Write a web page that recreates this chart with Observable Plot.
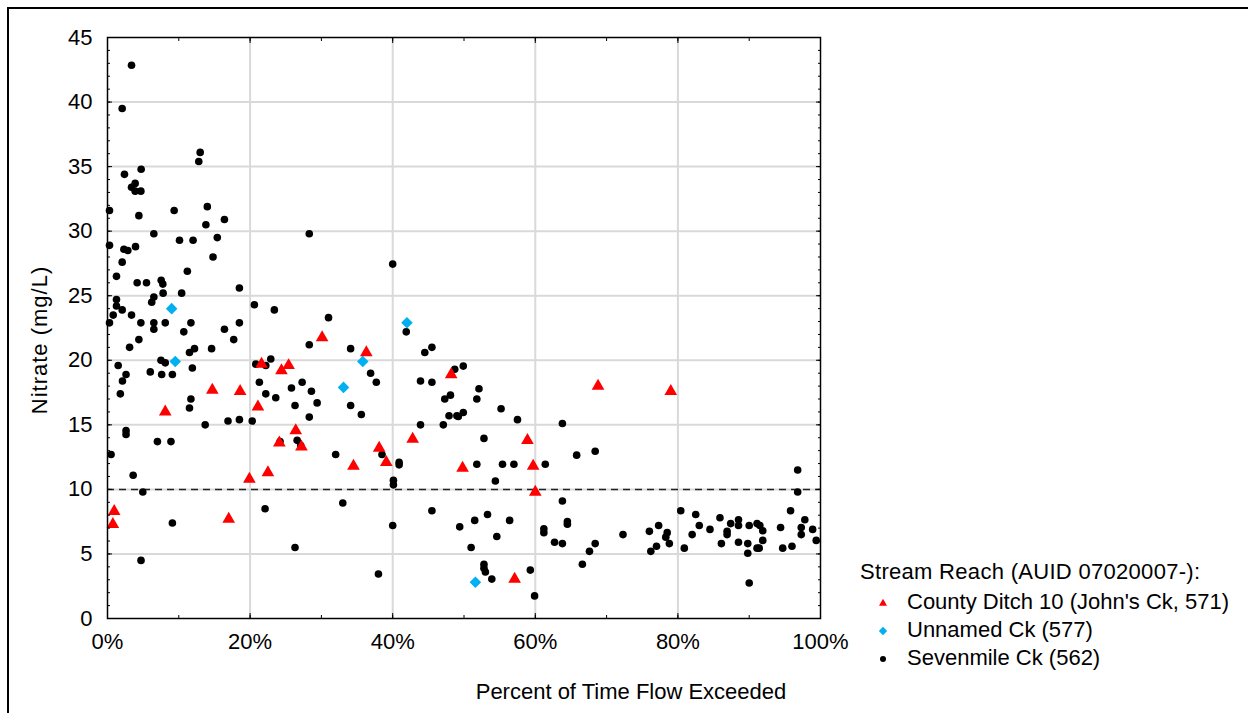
<!DOCTYPE html>
<html>
<head>
<meta charset="utf-8">
<script src="https://cdn.jsdelivr.net/npm/d3@7"></script>
<script src="https://cdn.jsdelivr.net/npm/@observablehq/plot@0.6"></script>
<style>
  html, body { margin: 0; padding: 0; background: #fff; }
  body { font-family: "Liberation Sans", Arial, sans-serif; color: #000; }
  #wrap { position: relative; width: 1248px; height: 713px; overflow: hidden; }
  #edge { position: absolute; left: 7px; top: 7px; width: 1260px; height: 720px;
          border-left: 2px solid #000; border-top: 2px solid #000; }
  #chart { position: absolute; left: 0; top: 0; }
  .lbl { position: absolute; font-size: 22px; line-height: 22px; white-space: nowrap; }
  #xtitle { left: 631px; top: 681px; transform: translateX(-50%); }
  #ytitle { left: 40px; top: 340px; letter-spacing: 1px; transform: translate(-50%, -50%) rotate(-90deg); }
  #legend .ttl { letter-spacing: 0.3px; }
  .sw { position: absolute; width: 12px; height: 12px; }
</style>
</head>
<body>
<div id="wrap">
  <div id="edge"></div>
  <div id="chart"></div>
  <div class="lbl" id="xtitle">Percent of Time Flow Exceeded</div>
  <div class="lbl" id="ytitle">Nitrate (mg/L)</div>
  <div id="legend"></div>
</div>
<script>
// Percent of time flow exceeded (%) and nitrate (mg/L) for each stream reach
const countyPct = [0.94, 0.75, 8.1, 14.7, 17.0, 18.6, 19.9, 21.1, 21.6, 22.5, 24.1, 24.4, 25.4, 26.4, 27.2,
  30.1, 34.5, 36.3, 38.1, 39.1, 42.8, 48.2, 49.8, 57.1, 58.9, 59.7, 60.0, 68.8, 79.0];
const countyNo3 = [8.3, 7.3, 16.0, 17.7, 7.7, 17.6, 10.8, 16.4, 19.7, 11.3, 13.6, 19.2, 19.6, 14.55, 13.3,
  21.75, 11.8, 20.6, 13.2, 12.1, 13.9, 18.9, 11.65, 3.05, 13.8, 11.8, 9.8, 18.0, 17.6];

const unnamedPct = [9.0, 9.5, 33.1, 35.8, 42.0, 51.6];
const unnamedNo3 = [24.0, 19.9, 17.9, 19.9, 22.9, 2.8];

const sevenPct = [
  3.37, 2.06, 13.0, 12.8, 4.72, 2.38, 3.88, 3.37, 3.88, 4.68, 0.28, 9.35, 4.4, 14.0, 13.8, 16.4, 6.5, 0.28,
  10.1, 12.0, 15.4, 2.3, 2.85, 3.93, 14.8, 2.06, 11.2, 1.26, 4.16, 5.47, 7.53, 7.76, 7.8, 10.4, 18.5, 1.26,
  6.5, 6.2, 1.26, 2.06, 20.6, 23.4, 0.8, 3.37, 0.28, 4.68, 6.5, 8.1, 11.7, 18.5, 6.5, 16.4, 10.7,
  17.7, 4.4, 3.1, 11.5, 12.2, 14.6, 7.5, 8.1, 1.5, 2.6, 2.1, 6.0, 7.6, 9.1, 11.9, 1.8, 11.7, 11.5,
  20.8, 22.2, 22.9, 21.3, 22.2, 23.6, 13.7, 16.9, 18.5, 20.3, 2.6, 2.6, 7.0, 8.9, 0.5, 3.6, 4.95, 22.1, 9.1, 4.7,
  28.3, 40.0, 31.0, 41.9, 28.3, 34.1, 44.5, 45.5, 36.9, 37.7, 43.9, 45.5, 48.7, 25.8, 27.3, 28.6, 26.3, 29.4,
  28.3, 34.1, 35.6, 47.3, 48.1, 47.9, 49.0, 43.9, 47.1, 24.2, 26.6, 27.1, 32.0, 38.5, 40.9, 40.9, 40.1, 40.1,
  33.0, 45.5, 40.0, 49.4, 26.3, 38.0,
  49.9, 52.1, 51.8, 49.2, 49.9, 55.2, 57.5, 63.8, 52.8, 65.8, 68.4, 51.8, 55.4, 57.0, 61.4, 54.4, 63.8,
  51.5, 53.3, 56.4, 54.6, 51.0, 61.2, 61.2, 64.5, 64.5, 62.7, 63.8, 68.4, 67.6, 72.3, 66.6, 52.8, 52.8, 53.0,
  53.9, 59.3, 59.9,
  96.8, 96.8, 76.0, 77.3, 78.5, 78.3, 78.8, 77.0, 76.2, 80.4, 80.9, 82.0, 82.5, 83.0, 84.5, 85.9, 86.1, 86.9,
  86.9, 87.4, 88.5, 88.5, 88.5, 89.8, 89.8, 90.0, 90.0, 91.1, 91.5, 91.9, 91.9, 91.1, 91.4, 94.4, 95.8, 94.7,
  96.0, 97.3, 97.3, 97.8, 98.9, 99.4
];
const sevenNo3 = [
  42.85, 39.5, 36.1, 35.4, 34.8, 34.4, 33.7, 33.4, 33.1, 33.1, 31.6, 31.6, 31.2, 31.9, 30.5, 30.9, 29.8, 28.9,
  29.3, 29.3, 29.5, 28.6, 28.5, 28.8, 28.0, 27.6, 26.9, 26.5, 26.0, 26.0, 26.2, 25.9, 25.2, 25.2, 25.6, 24.7,
  24.9, 24.5, 24.2, 23.9, 24.3, 23.9, 23.5, 23.5, 22.9, 22.9, 22.9, 22.9, 22.9, 22.9, 22.4, 22.4, 22.2,
  21.6, 21.6, 21.0, 20.6, 20.9, 20.9, 20.0, 19.8, 19.6, 18.9, 18.4, 19.1, 18.9, 18.9, 19.4, 17.4, 17.0, 16.3,
  19.7, 19.6, 20.1, 18.3, 17.4, 17.1, 15.0, 15.3, 15.4, 15.3, 14.55, 14.25, 13.7, 13.7, 12.7, 11.1, 9.8, 8.5, 7.4, 4.5,
  29.8, 27.45, 23.3, 22.2, 21.2, 20.9, 20.6, 21.0, 19.0, 18.3, 18.4, 18.3, 19.3, 17.85, 18.3, 17.6, 16.5, 16.7,
  15.6, 16.5, 15.8, 17.0, 17.3, 15.7, 15.7, 15.0, 15.0, 13.7, 13.8, 13.4, 12.7, 12.7, 12.1, 11.9, 10.7, 10.35,
  8.95, 8.35, 7.2, 7.1, 5.5, 3.45,
  19.55, 17.8, 17.0, 15.65, 15.95, 16.25, 15.4, 15.1, 13.95, 12.65, 12.95, 11.95, 11.95, 11.95, 11.95, 10.65, 9.1,
  7.6, 8.05, 7.6, 6.35, 5.5, 6.95, 6.65, 7.5, 7.3, 5.9, 5.8, 5.8, 5.2, 6.5, 4.2, 4.2, 3.9, 3.6,
  3.05, 3.75, 1.75,
  11.5, 9.8, 6.75, 7.2, 6.65, 6.3, 5.8, 5.6, 5.2, 8.35, 5.45, 6.5, 8.05, 7.2, 6.9, 7.8, 5.8, 6.5,
  6.75, 7.35, 7.65, 7.2, 5.9, 5.8, 5.05, 7.2, 2.75, 7.35, 7.2, 6.8, 6.05, 5.45, 5.45, 7.05, 8.35, 5.45,
  5.6, 7.05, 6.5, 7.65, 6.9, 6.05
];

// Drinking-water standard for nitrate (mg/L)
const standard = [10];

// Axis ticks
const yMajor = [0, 5, 10, 15, 20, 25, 30, 35, 40, 45];
const yMinor = d3.range(0, 46, 1);
const xMajor = [0, 20, 40, 60, 80, 100];
const xMinor = d3.range(0, 101, 10);

// Legend entries
const legendTitle = "Stream Reach (AUID 07020007-):";
const legendNames = ["County Ditch 10 (John's Ck, 571)", "Unnamed Ck (577)", "Sevenmile Ck (562)"];

const RED = "#ff0000", BLUE = "#00b0f0", BLACK = "#000000";

const toRows = (xs, ys) => xs.map((x, i) => ({pct: x, no3: ys[i]}));
const county = toRows(countyPct, countyNo3);
const unnamed = toRows(unnamedPct, unnamedNo3);
const seven = toRows(sevenPct, sevenNo3);

const gridStyle = {stroke: "#d9d9d9", strokeOpacity: 1, strokeWidth: 2};
const inner = (v, lo, hi) => v.filter(d => d > lo && d < hi);

const chart = Plot.plot({
  width: 1248,
  height: 713,
  marginLeft: 107,
  marginRight: 428,
  marginTop: 37,
  marginBottom: 95,
  style: {fontFamily: '"Liberation Sans", Arial, sans-serif', fontSize: "22px", color: "#000", background: "transparent", overflow: "visible"},
  x: {domain: [0, 100], label: null},
  y: {domain: [0, 45], label: null},
  marks: [
    Plot.gridX(inner(xMajor, 0, 100), gridStyle),
    Plot.gridY(inner(yMajor, 0, 45), gridStyle),
    Plot.ruleY(standard, {stroke: "#222", strokeWidth: 1.5, strokeDasharray: "7,5"}),
    Plot.dot(seven, {x: "pct", y: "no3", r: 3.8, fill: BLACK}),
    Plot.dot(unnamed, {x: "pct", y: "no3", r: 5.2, symbol: "diamond2", fill: BLUE}),
    Plot.dot(county, {x: "pct", y: "no3", r: 4.7, symbol: "triangle", fill: RED}),
    Plot.frame({stroke: "#000", strokeWidth: 1.5}),
    // tick labels
    Plot.axisY(yMajor, {anchor: "left", tickSize: 0, tickPadding: 15, label: null}),
    Plot.axisX(xMajor, {anchor: "bottom", tickSize: 0, tickPadding: 15, tickFormat: d => d + "%", label: null}),
    // inward tick marks on all four sides
    Plot.axisY(yMinor, {anchor: "left", tickSize: 3, dx: 3, fill: "none", label: null}),
    Plot.axisY(yMajor, {anchor: "left", tickSize: 5, dx: 5, fill: "none", label: null}),
    Plot.axisY(yMinor, {anchor: "right", tickSize: 3, dx: -3, fill: "none", label: null}),
    Plot.axisY(yMajor, {anchor: "right", tickSize: 5, dx: -5, fill: "none", label: null}),
    Plot.axisX(xMinor, {anchor: "bottom", tickSize: 3, dy: -3, fill: "none", label: null}),
    Plot.axisX(xMajor, {anchor: "bottom", tickSize: 5, dy: -5, fill: "none", label: null}),
    Plot.axisX(xMinor, {anchor: "top", tickSize: 3, dy: 3, fill: "none", label: null}),
    Plot.axisX(xMajor, {anchor: "top", tickSize: 5, dy: 5, fill: "none", label: null})
  ]
});
document.getElementById("chart").appendChild(chart);

// Legend: title plus one swatch and name per stream reach
const legend = document.getElementById("legend");
const swatches = [
  `<svg class="sw" viewBox="-6 -6 12 12"><path d="M0,-4.2L4,2.8L-4,2.8Z" fill="${RED}"/></svg>`,
  `<svg class="sw" viewBox="-6 -6 12 12"><path d="M0,-4.2L4.2,0L0,4.2L-4.2,0Z" fill="${BLUE}"/></svg>`,
  `<svg class="sw" viewBox="-6 -6 12 12"><circle r="3" fill="${BLACK}"/></svg>`
];
const title = document.createElement("div");
title.className = "lbl ttl";
title.style.left = "860px";
title.style.top = "561px";
title.textContent = legendTitle;
legend.appendChild(title);
legendNames.forEach((name, i) => {
  const cy = 603 + i * 28;
  const sw = document.createElement("div");
  sw.innerHTML = swatches[i];
  const s = sw.firstChild;
  s.style.left = (883 - 6) + "px";
  s.style.top = (cy - 6) + "px";
  legend.appendChild(s);
  const t = document.createElement("div");
  t.className = "lbl";
  t.style.left = "907px";
  t.style.top = (cy - 12) + "px";
  t.textContent = name;
  legend.appendChild(t);
});
</script>
</body>
</html>
